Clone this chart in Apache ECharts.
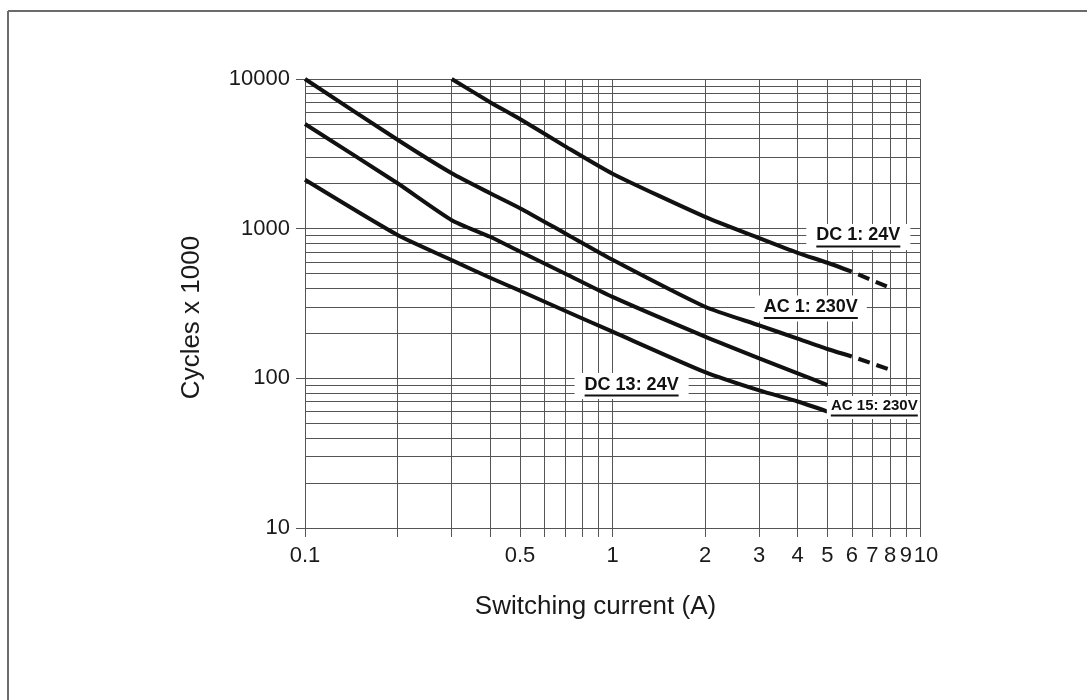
<!DOCTYPE html>
<html><head><meta charset="utf-8">
<script src="https://cdn.jsdelivr.net/npm/echarts@6/dist/echarts.min.js"></script>
<style>html,body{margin:0;padding:0;background:#fff}#c{width:1087px;height:700px}</style>
</head><body><div id="c"></div>
<script>
// ---- tick / grid values ----
const xTickValues = [0.1,0.2,0.3,0.4,0.5,0.6,0.7,0.8,0.9,1,2,3,4,5,6,7,8,9,10];
const xLabelValues = [0.1,0.5,1,2,3,4,5,6,7,8,9,10];
const yGridValues = [10,20,30,40,50,60,70,80,90,100,200,300,400,500,600,700,800,900,1000,2000,3000,4000,5000,6000,7000,8000,9000,10000];
const yLabelValues = [10,100,1000,10000];

// ---- curves (switching current A, cycles x 1000) ----
const dc1X = [0.3,0.4,0.5,0.7,1,2,3,4,5,6];
const dc1Y = [10000,7000,5400,3560,2330,1200,865,690,592,516];
const dc1DashX = [6,8];
const dc1DashY = [516,402];

const ac1X = [0.1,0.2,0.3,0.4,0.5,0.7,1,2,3,4,5,6];
const ac1Y = [10000,3925,2344,1725,1371,933,620,301,226,184,157,140];
const ac1DashX = [6,8];
const ac1DashY = [140,114];

const dc13X = [0.1,0.2,0.3,0.4,0.5,0.7,1,2,3,4,5];
const dc13Y = [5000,2010,1140,883,703,502,350,190,136,108,90];

const ac15X = [0.1,0.2,0.3,0.4,0.5,0.7,1,2,3,4,5];
const ac15Y = [2120,906,616,470,385,283,205,110,83,70,60];

const seriesNames = ['DC 1: 24V','AC 1: 230V','DC 13: 24V','AC 15: 230V'];

const L = v => Math.round(Math.log10(v) * 1e9) / 1e9;
const pairs = (xs, ys) => xs.map((x, i) => [L(x), L(ys[i])]);
const fmtNum = v => String(+Math.pow(10, v).toPrecision(6));

const FONT = '"Liberation Sans", Arial, sans-serif';
const GRID_C = '#555';
const INK = '#111';
const TXT = '#1a1a1a';

const curveStyle = {color: INK, width: 4};
const dashStyle = {color: INK, width: 4, type: [12, 7], dashOffset: 12};

const mctx = document.createElement('canvas').getContext('2d');
function textWidth(text, size) {
  mctx.font = 'bold ' + size + 'px "Liberation Sans", Arial, sans-serif';
  return Math.round(mctx.measureText(text).width);
}

function tag(x, y, text, size, pad) {
  return {
    coord: [L(x), L(y)],
    label: {
      padding: pad,
      formatter: '{t|' + text + '}\n{u|}',
      rich: {
        t: {fontSize: size, fontWeight: 'bold', fontFamily: FONT, color: INK, lineHeight: size + 1, align: 'center'},
        u: {width: textWidth(text, size), height: 2, backgroundColor: INK, lineHeight: 3, align: 'center'}
      }
    }
  };
}

const chart = echarts.init(document.getElementById('c'), null, {renderer: 'canvas'});
chart.setOption({
  animation: false,
  backgroundColor: '#fff',
  graphic: [
    {type: 'line', shape: {x1: 8, y1: 11, x2: 1087, y2: 11}, style: {stroke: '#6b6b6b', lineWidth: 2}},
    {type: 'line', shape: {x1: 8, y1: 11, x2: 8, y2: 700}, style: {stroke: '#6b6b6b', lineWidth: 2}}
  ],
  grid: {left: 305, right: 167, top: 79, bottom: 172, containLabel: false},
  xAxis: {
    type: 'value', min: -1, max: 1,
    name: 'Switching current (A)', nameLocation: 'middle', nameGap: 66,
    nameTextStyle: {fontSize: 26, fontFamily: FONT, color: TXT, padding: [0, 34, 0, 0]},
    axisLine: {show: true, lineStyle: {color: GRID_C, width: 1}},
    axisTick: {show: true, length: 9, customValues: xTickValues.map(L), lineStyle: {color: GRID_C, width: 1}},
    axisLabel: {
      customValues: xLabelValues.map(L), margin: 17,
      fontSize: 22, fontFamily: FONT, color: TXT,
      formatter: v => { const s = fmtNum(v); return s === '10' ? '{s|10}' : s; },
      rich: {s: {fontSize: 22, fontFamily: FONT, color: TXT, padding: [0, 0, 0, 12]}}
    },
    splitLine: {show: true, lineStyle: {color: GRID_C, width: 1}}
  },
  yAxis: [
    {
      type: 'value', min: 1, max: 4, position: 'left',
      axisLine: {show: false},
      axisTick: {show: true, inside: true, length: 4, customValues: yGridValues.map(L), lineStyle: {color: GRID_C, width: 1}},
      axisLabel: {show: false},
      splitLine: {show: true, lineStyle: {color: GRID_C, width: 1}}
    },
    {
      type: 'value', min: 1, max: 4, position: 'left',
      name: 'Cycles x 1000', nameLocation: 'middle', nameGap: 100,
      nameTextStyle: {fontSize: 26, fontFamily: FONT, color: TXT, padding: [0, 28, 0, 0]},
      axisLine: {show: false},
      axisTick: {show: true, length: 9, customValues: yLabelValues.map(L), lineStyle: {color: GRID_C, width: 1}},
      axisLabel: {customValues: yLabelValues.map(L), margin: 15, fontSize: 22, fontFamily: FONT, color: TXT, formatter: fmtNum},
      splitLine: {show: false}
    }
  ],
  series: [
    {name: seriesNames[0], type: 'line', data: pairs(dc1X, dc1Y), showSymbol: false, smooth: 0.2, lineStyle: curveStyle, z: 3,
     markPoint: {symbol: 'rect', symbolSize: 1, itemStyle: {color: 'rgba(0,0,0,0)'}, z: 10,
       label: {show: true, position: 'inside', backgroundColor: '#fff'},
       data: [tag(6.3, 881, seriesNames[0], 18, [2, 10, 2, 10]), tag(4.415, 293, seriesNames[1], 18, [2, 9, 2, 9]),
              tag(1.154, 88.8, seriesNames[2], 18, [2, 10, 2, 10]), tag(7.05, 63.8, seriesNames[3], 15, [2, 2, 2, 4])]}},
    {name: seriesNames[0] + ' (ext)', type: 'line', data: pairs(dc1DashX, dc1DashY), showSymbol: false, lineStyle: dashStyle, z: 3},
    {name: seriesNames[1], type: 'line', data: pairs(ac1X, ac1Y), showSymbol: false, smooth: 0.2, lineStyle: curveStyle, z: 3},
    {name: seriesNames[1] + ' (ext)', type: 'line', data: pairs(ac1DashX, ac1DashY), showSymbol: false, lineStyle: dashStyle, z: 3},
    {name: seriesNames[2], type: 'line', data: pairs(dc13X, dc13Y), showSymbol: false, smooth: 0.2, lineStyle: curveStyle, z: 3},
    {name: seriesNames[3], type: 'line', data: pairs(ac15X, ac15Y), showSymbol: false, smooth: 0.2, lineStyle: curveStyle, z: 3}
  ]
});
</script></body></html>
